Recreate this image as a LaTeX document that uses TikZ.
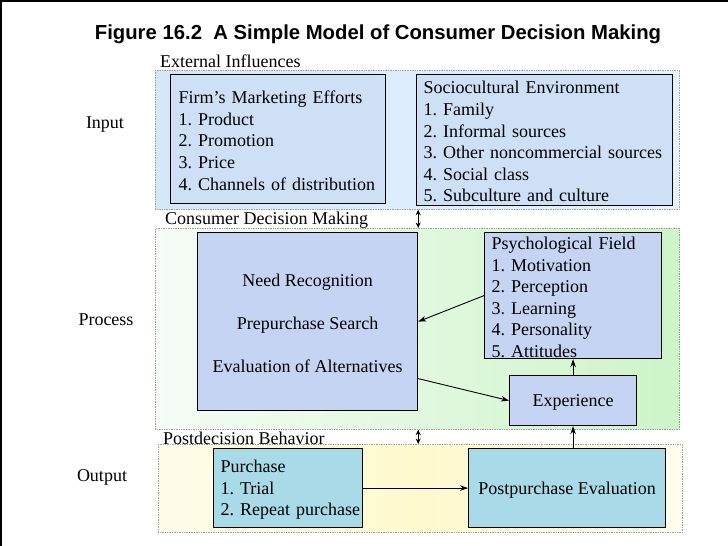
\documentclass[tikz,border=0pt]{standalone}
\usepackage{fontspec}
\setmainfont{Liberation Serif}
\newfontfamily\titlefont{Liberation Sans}
\usetikzlibrary{arrows.meta}
\frenchspacing
\hyphenpenalty=10000
\newcommand{\tstrut}{\rule{0pt}{16pt}}
\definecolor{inA}{RGB}{212,232,250}
\definecolor{inB}{RGB}{230,243,253}
\definecolor{procL}{RGB}{246,252,246}
\definecolor{procR}{RGB}{204,245,200}
\definecolor{outL}{RGB}{255,253,234}
\definecolor{outM}{RGB}{255,250,205}
\definecolor{outR}{RGB}{255,253,236}
\definecolor{boxA}{RGB}{205,224,246}
\definecolor{boxB}{RGB}{196,212,242}
\definecolor{boxC}{RGB}{168,218,232}
\tikzset{
  grp/.style={draw=gray!75, densely dotted, line width=0.7pt, inner sep=0pt, anchor=north west},
  box/.style={draw=black, line width=1.2pt, inner ysep=0pt, anchor=north west,
    font=\fontsize{18}{21.6}\selectfont},
  lbl/.style={font=\fontsize{18}{21.6}\selectfont, inner sep=0pt},
  arr/.style={-{Stealth[length=8pt,width=5.5pt]}, line width=0.9pt},
  dbl/.style={{Stealth[length=5.5pt,width=5pt]}-{Stealth[length=5.5pt,width=5pt]}, line width=0.9pt}
}
\begin{document}
\begin{tikzpicture}[x=1pt,y=-1pt]
\useasboundingbox (0,0) rectangle (728,546);
\fill[white] (0,0) rectangle (728,546);
\draw[line width=4pt] (0,546) -- (0,0) -- (728,0);

\node[lbl, font=\titlefont\bfseries\fontsize{20.3}{24}\selectfont, anchor=base] (title) at (378,39)
  {Figure 16.2\ \ A Simple Model of Consumer Decision Making};

% group boxes
\node[grp, left color=inA, right color=inB, minimum width=524pt, minimum height=139pt] (inbox) at (155,70) {};
\node[grp, left color=procL, right color=procR, minimum width=524pt, minimum height=201pt] (procbox) at (155,228) {};
\node[grp, left color=outL, right color=outR, middle color=outM, minimum width=524pt, minimum height=88pt] (outbox) at (158,444) {};

\node[lbl, anchor=base west] (extl) at (160,67) {External Influences};
\node[lbl, anchor=base west] (cdml) at (165,224) {Consumer Decision Making};
\node[lbl, anchor=base west] (pdbl) at (163,444) {Postdecision Behavior};
\node[lbl, anchor=base] (inputl) at (105,128) {Input};
\node[lbl, anchor=base] (processl) at (106,325) {Process};
\node[lbl, anchor=base] (outputl) at (102,481) {Output};

% boxes
\node[box, fill=boxA, minimum width=215pt, minimum height=129pt, inner xsep=8pt, text width=199pt, align=left] (firm) at (170,74)
  {\tstrut Firm’s~Marketing~Efforts\\1.~Product\\2.~Promotion\\3.~Price\\4.~Channels~of~distribution};
\node[box, fill=boxA, minimum width=256pt, minimum height=131pt, inner xsep=7pt, text width=242pt, align=left] (socio) at (416,74)
  {\tstrut Sociocultural~Environment\\1.~Family\\2.~Informal~sources\\3.~Other~noncommercial~sources\\4.~Social~class\\5.~Subculture~and~culture};
\node[box, fill=boxB, minimum width=220pt, minimum height=178pt, align=center] (need) at (197,232)
  {\tstrut Need Recognition\\[21.8pt]Prepurchase Search\\[21.8pt]Evaluation of Alternatives};
\node[box, fill=boxB, minimum width=177pt, minimum height=126pt, inner xsep=7pt, text width=163pt, align=left] (psych) at (484,232)
  {\tstrut Psychological~Field\\1.~Motivation\\2.~Perception\\3.~Learning\\4.~Personality\\5.~Attitudes};
\node[box, fill=boxB, minimum width=127pt, minimum height=50pt] (exper) at (509,375) {\tstrut Experience};
\node[box, fill=boxC, minimum width=149pt, minimum height=79pt, inner xsep=7pt, text width=135pt, align=left] (purch) at (213,448)
  {\tstrut Purchase\\1.~Trial\\2.~Repeat~purchase};
\node[box, fill=boxC, minimum width=197pt, minimum height=79pt] (post) at (468,448) {\tstrut Postpurchase Evaluation};

% connectors
\draw[arr] (psych.west) -- (need.east);
\draw[arr] ([yshift=-57pt]need.east) -- (exper.west);
\draw[arr] (exper.north) -- (psych.south);
\draw[arr] (purch.east) -- (post.west);
\draw[arr] (exper.south |- post.north) -- (exper.south);
\draw[dbl] (inbox.south -| need.east) -- (procbox.north -| need.east);
\draw[dbl] (procbox.south -| need.east) -- (outbox.north -| need.east);
\end{tikzpicture}
\end{document}
